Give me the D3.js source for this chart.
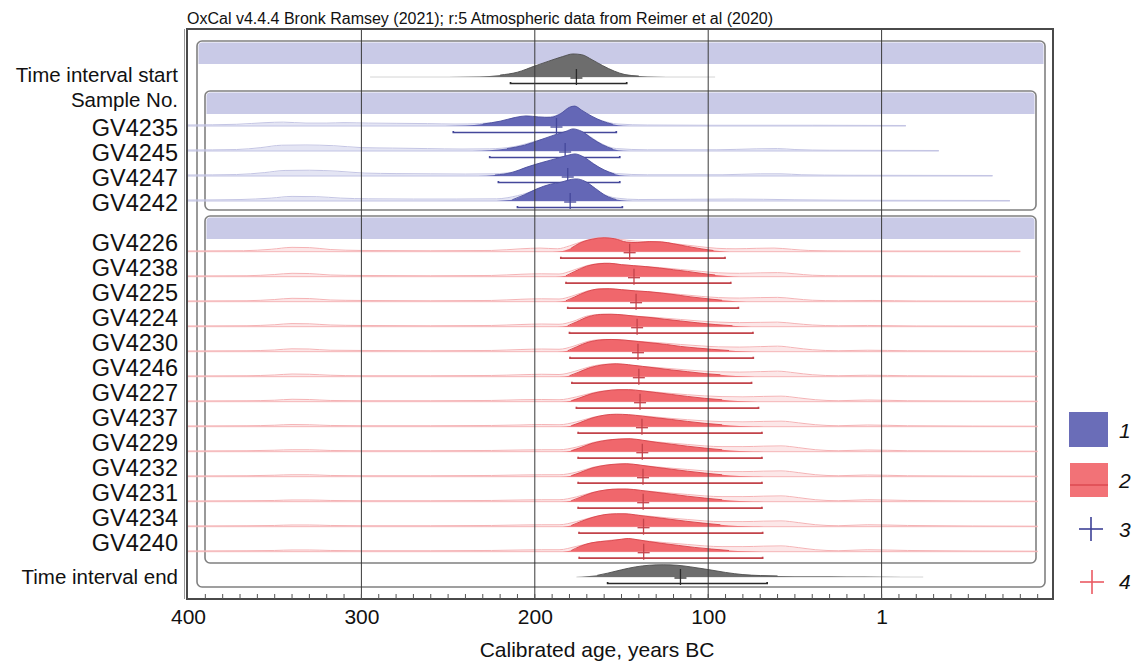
<!DOCTYPE html>
<html>
<head>
<meta charset="utf-8">
<script src="https://cdn.jsdelivr.net/npm/d3@7"></script>
<style>
  body { margin: 0; background: #fff; }
  svg { display: block; font-family: "Liberation Sans", Arial, sans-serif; }
</style>
</head>
<body>
<svg id="chart" width="1134" height="661"></svg>
<script>
// ---- Axis ticks (years BC; "1" marks the BC/AD boundary) ----
const tickYears = [400, 300, 200, 100, 0];
const tickLabels = ["400", "300", "200", "100", "1"];

// ---- Boundaries ----
const startName = "Time interval start";
const startRange = [214, 147];
const startMean = 176;
const startLine = [295, 96];
const startPost = [[250,0],[232,0.02],[220,0.08],[210,0.2],[200,0.46],[192,0.66],[184,0.85],[178,0.96],[173,0.93],[167,0.72],[161,0.48],[154,0.24],[148,0.1],[140,0.04],[130,0.015],[118,0]];

const endName = "Time interval end";
const endRange = [158, 66];
const endMean = 116;
const endLine = [176, -24];
const endPost = [[176,0],[170,0.03],[164,0.07],[158,0.16],[150,0.3],[142,0.42],[134,0.49],[126,0.51],[118,0.49],[110,0.42],[100,0.31],[90,0.19],[80,0.1],[70,0.06],[60,0.045],[40,0.035],[20,0.025],[0,0.015],[-24,0]];

// ---- Group 1 (blue) ----
const blueNames = ["GV4235", "GV4245", "GV4247", "GV4242"];
const blueFrom = [247, 226, 221, 210];
const blueTo = [153, 151, 151, 149.5];
const blueMean = [187.5, 182.5, 181, 179.6];
const blueLineEnd = [-14, -33, -64, -74];
const bluePost = [
  [[252,0],[240,0.02],[230,0.08],[220,0.2],[211,0.36],[205,0.42],[198,0.38],[191,0.36],[185,0.52],[180,0.78],[177,0.83],[173,0.66],[167,0.4],[161,0.2],[155,0.07],[149,0.01],[142,0]],
  [[236,0],[226,0.03],[216,0.1],[206,0.24],[197,0.46],[189,0.66],[182,0.82],[178,0.92],[173,0.82],[167,0.52],[161,0.26],[155,0.08],[149,0.01],[142,0]],
  [[233,0],[223,0.04],[213,0.15],[205,0.36],[196,0.56],[188,0.72],[181,0.86],[177,0.92],[172,0.8],[166,0.5],[160,0.25],[154,0.08],[148,0.01],[141,0]],
  [[222,0],[213,0.05],[206,0.26],[199,0.5],[191,0.7],[185,0.78],[179,0.9],[176,0.92],[171,0.82],[165,0.52],[159,0.22],[153,0.06],[147,0.01],[140,0]]
];
const bluePrior = [
  [[400,0.02],[372,0.05],[355,0.12],[345,0.14],[332,0.1],[320,0.1],[310,0.12],[296,0.1],[280,0.09],[262,0.08],[246,0.06],[232,0.08],[218,0.18],[206,0.34],[196,0.32],[186,0.46],[179,0.68],[171,0.5],[162,0.22],[152,0.06],[135,0.02],[100,0.01],[40,0.01],[-14,0]],
  [[400,0.02],[372,0.04],[358,0.12],[346,0.22],[332,0.23],[316,0.2],[300,0.12],[282,0.1],[262,0.08],[242,0.06],[226,0.07],[212,0.16],[198,0.42],[185,0.66],[178,0.86],[170,0.66],[162,0.3],[153,0.08],[135,0.03],[95,0.03],[72,0.07],[60,0.08],[50,0.04],[30,0.01],[-33,0]],
  [[400,0.02],[372,0.04],[356,0.12],[344,0.21],[330,0.22],[314,0.18],[298,0.1],[280,0.08],[260,0.07],[240,0.06],[224,0.07],[210,0.18],[198,0.44],[186,0.68],[178,0.86],[170,0.68],[162,0.3],[153,0.08],[135,0.03],[92,0.03],[70,0.07],[58,0.07],[46,0.03],[20,0.01],[-64,0]],
  [[400,0.02],[370,0.04],[352,0.1],[340,0.17],[326,0.16],[312,0.1],[296,0.07],[270,0.06],[245,0.06],[222,0.07],[210,0.2],[198,0.46],[186,0.7],[178,0.86],[170,0.7],[162,0.32],[153,0.1],[140,0.04],[110,0.05],[85,0.06],[68,0.05],[50,0.03],[20,0.01],[-74,0]]
];

// ---- Group 2 (red) ----
const redNames = ["GV4226","GV4238","GV4225","GV4224","GV4230","GV4246","GV4227","GV4237","GV4229","GV4232","GV4231","GV4234","GV4240"];
const redFrom = [185, 182, 181, 180, 179.7, 178.6, 176, 175, 175, 175, 175, 174.5, 174.4];
const redTo = [90.3, 87, 82.6, 74.2, 74, 75, 71, 69, 69, 69, 69, 68.6, 68.6];
const redMean = [145.3, 142.8, 141.6, 141, 140.5, 140, 139.3, 138.2, 138, 137.6, 137.5, 137.3, 137.2];
const redLineEnd = [-80, -90, -90, -90, -90, -90, -90, -90, -90, -90, -90, -90, -90];
const redPost = [
  [[190,0],[184,0.03],[179,0.15],[174,0.36],[167,0.52],[160,0.58],[154,0.54],[147,0.4],[141,0.38],[134,0.42],[127,0.41],[120,0.33],[112,0.22],[104,0.12],[97,0.05],[90,0.01],[85,0]],
  [[188,0],[182,0.04],[177,0.22],[170,0.44],[163,0.54],[157,0.56],[150,0.5],[143,0.46],[136,0.42],[128,0.36],[120,0.29],[112,0.22],[104,0.14],[96,0.07],[89,0.03],[82,0]],
  [[188,0],[182,0.04],[177,0.2],[170,0.42],[163,0.53],[157,0.54],[150,0.5],[142,0.45],[135,0.42],[127,0.36],[118,0.28],[110,0.2],[100,0.12],[92,0.06],[84,0.02],[78,0]],
  [[187,0],[181,0.04],[176,0.2],[169,0.42],[162,0.51],[156,0.52],[149,0.49],[141,0.43],[133,0.38],[125,0.31],[116,0.24],[106,0.16],[96,0.09],[86,0.04],[78,0.01],[72,0]],
  [[187,0],[181,0.04],[176,0.2],[169,0.4],[162,0.49],[156,0.51],[148,0.48],[140,0.42],[133,0.37],[124,0.3],[116,0.22],[106,0.15],[98,0.1],[88,0.05],[80,0.02],[72,0]],
  [[186,0],[180,0.04],[175,0.18],[168,0.38],[160,0.5],[153,0.54],[146,0.5],[138,0.43],[130,0.36],[121,0.28],[112,0.21],[102,0.13],[93,0.08],[84,0.03],[76,0.01],[70,0]],
  [[185,0],[179,0.04],[174,0.16],[167,0.34],[159,0.45],[152,0.5],[146,0.5],[138,0.45],[130,0.38],[121,0.3],[112,0.22],[102,0.14],[92,0.08],[83,0.03],[75,0.01],[68,0]],
  [[185,0],[179,0.04],[174,0.17],[167,0.36],[160,0.48],[153,0.52],[146,0.5],[138,0.44],[130,0.37],[121,0.3],[112,0.22],[102,0.14],[92,0.08],[82,0.03],[74,0.01],[67,0]],
  [[185,0],[179,0.04],[174,0.16],[167,0.35],[159,0.47],[151,0.53],[145,0.54],[138,0.48],[130,0.39],[121,0.31],[112,0.23],[102,0.15],[92,0.08],[82,0.03],[74,0.01],[67,0]],
  [[185,0],[179,0.04],[174,0.17],[167,0.36],[159,0.48],[152,0.53],[147,0.54],[139,0.48],[130,0.39],[121,0.31],[112,0.23],[102,0.15],[92,0.08],[82,0.03],[74,0.01],[67,0]],
  [[185,0],[179,0.04],[174,0.18],[167,0.37],[159,0.49],[152,0.53],[147,0.53],[139,0.47],[130,0.39],[121,0.31],[112,0.23],[102,0.15],[92,0.08],[82,0.03],[74,0.01],[67,0]],
  [[184,0],[179,0.05],[174,0.2],[167,0.38],[160,0.5],[153,0.54],[148,0.54],[140,0.47],[131,0.39],[122,0.31],[113,0.23],[103,0.15],[93,0.08],[83,0.03],[74,0.01],[67,0]],
  [[184,0],[179,0.05],[174,0.22],[168,0.36],[162,0.42],[156,0.46],[150,0.52],[146,0.55],[141,0.5],[134,0.42],[126,0.34],[117,0.26],[108,0.18],[98,0.11],[88,0.05],[78,0.02],[68,0]]
];
const redPrior = [
  [[400,0.01],[368,0.02],[352,0.08],[340,0.16],[330,0.15],[318,0.07],[300,0.03],[260,0.02],[225,0.03],[208,0.1],[197,0.13],[187,0.1],[180,0.22],[172,0.42],[162,0.56],[152,0.5],[142,0.42],[130,0.38],[118,0.3],[106,0.2],[95,0.12],[84,0.1],[72,0.12],[62,0.13],[52,0.08],[42,0.03],[20,0.01],[-80,0]],
  [[400,0.01],[366,0.02],[350,0.07],[340,0.12],[330,0.11],[318,0.05],[300,0.03],[260,0.02],[225,0.03],[208,0.08],[196,0.1],[186,0.09],[179,0.22],[170,0.44],[160,0.54],[150,0.48],[140,0.42],[128,0.36],[116,0.28],[104,0.2],[94,0.14],[82,0.12],[70,0.14],[60,0.15],[50,0.1],[40,0.04],[25,0.02],[5,0.02],[-30,0.01],[-90,0]],
  [[400,0.01],[366,0.02],[350,0.07],[340,0.12],[330,0.11],[318,0.05],[300,0.03],[260,0.02],[225,0.03],[208,0.08],[196,0.1],[186,0.09],[179,0.2],[170,0.42],[160,0.52],[150,0.48],[140,0.42],[128,0.36],[116,0.28],[104,0.2],[94,0.15],[82,0.13],[70,0.15],[60,0.16],[50,0.1],[40,0.04],[25,0.02],[5,0.03],[-20,0.01],[-90,0]],
  [[400,0.01],[366,0.02],[350,0.06],[340,0.11],[330,0.1],[318,0.05],[300,0.03],[260,0.02],[225,0.03],[208,0.07],[196,0.09],[186,0.08],[178,0.2],[170,0.42],[160,0.5],[150,0.47],[140,0.41],[128,0.35],[116,0.28],[104,0.21],[94,0.17],[82,0.15],[70,0.16],[60,0.17],[50,0.11],[40,0.05],[25,0.02],[8,0.03],[-20,0.01],[-90,0]],
  [[400,0.01],[366,0.02],[350,0.05],[340,0.1],[330,0.09],[318,0.04],[300,0.03],[260,0.02],[225,0.03],[208,0.07],[196,0.09],[186,0.08],[178,0.2],[170,0.4],[160,0.49],[150,0.47],[140,0.41],[128,0.35],[116,0.28],[104,0.22],[94,0.18],[82,0.17],[70,0.19],[60,0.21],[50,0.14],[40,0.06],[25,0.02],[8,0.04],[-15,0.02],[-90,0]],
  [[400,0.01],[366,0.02],[350,0.05],[340,0.09],[330,0.08],[318,0.04],[300,0.02],[260,0.02],[225,0.03],[208,0.06],[196,0.08],[186,0.07],[177,0.2],[168,0.4],[158,0.5],[148,0.47],[138,0.41],[126,0.34],[114,0.27],[103,0.21],[93,0.18],[82,0.17],[70,0.19],[60,0.21],[50,0.14],[40,0.06],[25,0.02],[8,0.04],[-15,0.02],[-90,0]],
  [[400,0.01],[366,0.02],[350,0.04],[340,0.08],[330,0.07],[318,0.03],[300,0.02],[260,0.02],[225,0.03],[208,0.06],[196,0.07],[186,0.06],[176,0.18],[166,0.36],[156,0.46],[146,0.47],[136,0.42],[124,0.34],[112,0.27],[102,0.22],[92,0.19],[80,0.18],[68,0.2],[58,0.21],[48,0.14],[38,0.06],[25,0.02],[8,0.05],[-15,0.02],[-90,0]],
  [[400,0.01],[366,0.02],[350,0.04],[340,0.07],[330,0.06],[318,0.03],[300,0.02],[260,0.02],[225,0.03],[208,0.05],[196,0.07],[186,0.06],[176,0.18],[166,0.38],[156,0.47],[146,0.47],[136,0.42],[124,0.34],[112,0.27],[102,0.22],[92,0.19],[80,0.18],[68,0.2],[58,0.21],[48,0.14],[38,0.06],[25,0.02],[8,0.05],[-15,0.02],[-90,0]],
  [[400,0.01],[366,0.02],[350,0.04],[340,0.06],[330,0.06],[318,0.03],[300,0.02],[260,0.02],[225,0.03],[208,0.05],[196,0.06],[186,0.06],[176,0.17],[166,0.37],[156,0.48],[146,0.5],[136,0.43],[124,0.35],[112,0.28],[102,0.22],[92,0.19],[80,0.19],[68,0.21],[58,0.22],[48,0.15],[38,0.06],[25,0.02],[8,0.05],[-15,0.02],[-90,0]],
  [[400,0.01],[366,0.02],[350,0.04],[340,0.06],[330,0.06],[318,0.03],[300,0.02],[260,0.02],[225,0.03],[208,0.05],[196,0.06],[186,0.06],[176,0.17],[166,0.38],[156,0.48],[146,0.5],[136,0.43],[124,0.35],[112,0.28],[102,0.22],[92,0.19],[80,0.19],[68,0.21],[58,0.22],[48,0.15],[38,0.06],[25,0.02],[8,0.05],[-15,0.02],[-90,0]],
  [[400,0.01],[366,0.02],[350,0.03],[340,0.05],[330,0.05],[318,0.03],[300,0.02],[260,0.02],[225,0.03],[208,0.05],[196,0.06],[186,0.06],[176,0.18],[166,0.38],[156,0.48],[146,0.49],[136,0.43],[124,0.35],[112,0.28],[102,0.22],[92,0.19],[80,0.19],[68,0.21],[58,0.22],[48,0.15],[38,0.06],[25,0.02],[8,0.06],[-15,0.03],[-90,0]],
  [[400,0.01],[366,0.02],[350,0.03],[340,0.05],[330,0.05],[318,0.03],[300,0.02],[260,0.02],[225,0.03],[208,0.05],[196,0.06],[186,0.06],[176,0.19],[166,0.39],[156,0.49],[146,0.49],[136,0.43],[124,0.35],[112,0.28],[102,0.22],[92,0.19],[80,0.19],[68,0.21],[58,0.22],[48,0.15],[38,0.06],[25,0.02],[8,0.06],[-15,0.03],[-90,0]],
  [[400,0.01],[366,0.02],[350,0.03],[340,0.05],[330,0.05],[318,0.03],[300,0.02],[260,0.02],[225,0.03],[208,0.05],[196,0.06],[186,0.06],[176,0.2],[166,0.36],[156,0.46],[146,0.5],[136,0.43],[124,0.35],[112,0.28],[102,0.22],[92,0.19],[80,0.19],[68,0.21],[58,0.22],[48,0.15],[38,0.06],[25,0.02],[8,0.06],[-15,0.03],[-90,0]]
];

// ---- Legend ----
const legendLabels = ["1", "2", "3", "4"];

// ---- Colours ----
const C = {
  band: "#c9cae7",
  box: "#808080",
  grid: "#3a3a3a",
  bluePost: "#6467b6", blueEdge: "#4a4d9d", bluePrior: "rgba(196,197,230,0.45)", bluePriorEdge: "#c4c5e4", blueLine: "#c3c4e4", blueMark: "#44479a",
  redPost: "#f0676c", redEdge: "#d8434a", redPrior: "rgba(246,176,178,0.3)", redPriorEdge: "#f5b3b5", redLine: "#f6b8ba", redMark: "#c2434a",
  grayPost: "#6d6d6d", grayEdge: "#4d4d4d", grayLine: "#d4d4d4", grayMark: "#2a2a2a"
};

const svg = d3.select("#chart");

// scales
const x = d3.scaleLinear().domain([400, -100]).range([188, 1055]);
const h = d3.scaleLinear().domain([0, 1]).range([0, 24]);
const yBlue = d3.scalePoint().domain(blueNames).range([126, 201]);
const yRed = d3.scalePoint().domain(redNames).range([251.7, 551.7]);
const yStart = 77, yEnd = 577;

// title
svg.append("text").attr("x", 187).attr("y", 24).attr("font-size", 16).attr("fill", "#111")
  .text("OxCal v4.4.4 Bronk Ramsey (2021); r:5 Atmospheric data from Reimer et al (2020)");

// panels
const panels = svg.append("g");
function panel(x0, y0, x1, y1, bandH) {
  panels.append("rect").attr("x", x0).attr("y", y0).attr("width", x1 - x0).attr("height", y1 - y0)
    .attr("rx", 5).attr("fill", "#fff").attr("stroke", C.box).attr("stroke-width", 1.6);
  panels.append("path")
    .attr("d", `M${x0+1.5},${y0+bandH} V${y0+5} Q${x0+1.5},${y0+1.5} ${x0+5},${y0+1.5} H${x1-5} Q${x1-1.5},${y0+1.5} ${x1-1.5},${y0+5} V${y0+bandH} Z`)
    .attr("fill", C.band);
}
panel(197, 41, 1045, 587, 23);
panel(205, 91, 1036, 210, 23);
panel(205, 216, 1036, 563, 23);

const area = base => d3.area().curve(d3.curveMonotoneX)
  .x(d => x(d[0])).y0(base).y1(d => base - h(d[1]));
const edge = base => d3.line().curve(d3.curveMonotoneX)
  .x(d => x(d[0])).y(d => base - h(d[1]));

const marks = svg.append("g");

function row(base, lineSpan, prior, post, from, to, mean, col) {
  marks.append("line").attr("x1", x(lineSpan[0])).attr("x2", x(lineSpan[1]))
    .attr("y1", base).attr("y2", base).attr("stroke", col.line).attr("stroke-width", 1);
  if (prior) {
    marks.append("path").datum(prior).attr("d", area(base)).attr("fill", col.prior);
    marks.append("path").datum(prior).attr("d", edge(base - 0.5))
      .attr("fill", "none").attr("stroke", col.priorEdge).attr("stroke-width", 1);
  }
  marks.append("path").datum(post).attr("d", area(base)).attr("fill", col.post);
  // outline only where the curve lifts off the baseline
  const lifted = post.filter(d => d[1] >= 0.04);
  marks.append("path").datum(lifted).attr("d", edge(base))
    .attr("fill", "none").attr("stroke", col.edge).attr("stroke-width", 0.9);
  const by = base + 6.5;
  marks.append("path")
    .attr("d", `M${x(from)},${by-1.5} V${by} H${x(to)} V${by-1.5}`)
    .attr("fill", "none").attr("stroke", col.mark).attr("stroke-width", 1.7);
  const mx = x(mean);
  marks.append("line").attr("x1", mx).attr("x2", mx).attr("y1", base - 8).attr("y2", base + 8)
    .attr("stroke", col.mark).attr("stroke-width", 1.3);
  marks.append("line").attr("x1", mx - 6).attr("x2", mx + 6).attr("y1", base + 1).attr("y2", base + 1)
    .attr("stroke", col.mark).attr("stroke-width", 1.3);
}

const grayCol = { line: C.grayLine, post: C.grayPost, edge: C.grayEdge, mark: C.grayMark };
const blueCol = { line: C.blueLine, prior: C.bluePrior, priorEdge: C.bluePriorEdge, post: C.bluePost, edge: C.blueEdge, mark: C.blueMark };
const redCol = { line: C.redLine, prior: C.redPrior, priorEdge: C.redPriorEdge, post: C.redPost, edge: C.redEdge, mark: C.redMark };

row(yStart, startLine, null, startPost, startRange[0], startRange[1], startMean, grayCol);
blueNames.forEach((n, i) => row(yBlue(n), [400, blueLineEnd[i]], bluePrior[i], bluePost[i], blueFrom[i], blueTo[i], blueMean[i], blueCol));
redNames.forEach((n, i) => row(yRed(n), [400, redLineEnd[i]], redPrior[i], redPost[i], redFrom[i], redTo[i], redMean[i], redCol));
row(yEnd, endLine, null, endPost, endRange[0], endRange[1], endMean, grayCol);

// vertical grid at the labelled years
svg.append("g").selectAll("line").data(tickYears.slice(1)).join("line")
  .attr("x1", d => x(d)).attr("x2", d => x(d)).attr("y1", 29).attr("y2", 599)
  .attr("stroke", C.grid).attr("stroke-width", 1);

// outer frame
svg.append("rect").attr("x", 187).attr("y", 29).attr("width", 866).attr("height", 570)
  .attr("fill", "none").attr("stroke", "#4a4a4a").attr("stroke-width", 2);
svg.append("line").attr("x1", 184.5).attr("x2", 184.5).attr("y1", 29).attr("y2", 599)
  .attr("stroke", "#9a9a9a").attr("stroke-width", 1);

// bottom axis: minor ticks every 10 years, labels at the centuries
const axis = d3.axisBottom(x).tickValues(tickYears).tickFormat((d, i) => tickLabels[i]).tickSize(0).tickPadding(10);
const gAxis = svg.append("g").attr("transform", "translate(0,599)").call(axis);
gAxis.select(".domain").remove();
gAxis.selectAll("text").attr("font-size", 21).attr("fill", "#111").attr("font-family", "Liberation Sans, Arial, sans-serif");
const minor = d3.range(390, -100, -10);
svg.append("g").selectAll("line").data(minor).join("line")
  .attr("x1", d => x(d)).attr("x2", d => x(d)).attr("y1", 599).attr("y2", 594)
  .attr("stroke", "#555").attr("stroke-width", 1);

svg.append("text").attr("x", 597).attr("y", 657).attr("text-anchor", "middle")
  .attr("font-size", 21).attr("fill", "#111").text("Calibrated age, years BC");

// row labels
const lab = svg.append("g").attr("text-anchor", "end").attr("fill", "#111");
lab.append("text").attr("x", 178).attr("y", 75).attr("dy", "0.36em").attr("font-size", 20.5).text(startName);
lab.append("text").attr("x", 178).attr("y", 100).attr("dy", "0.36em").attr("font-size", 20.5).text("Sample No.");
blueNames.forEach(n => lab.append("text").attr("x", 178).attr("y", yBlue(n) + 2).attr("dy", "0.36em").attr("font-size", 23.5).text(n));
redNames.forEach(n => lab.append("text").attr("x", 178).attr("y", yRed(n) - 9.5).attr("dy", "0.36em").attr("font-size", 23.5).text(n));
lab.append("text").attr("x", 178).attr("y", 577).attr("dy", "0.36em").attr("font-size", 20.5).text(endName);

// legend
const lg = svg.append("g");
lg.append("rect").attr("x", 1069).attr("y", 412).attr("width", 39).attr("height", 35).attr("fill", "#6a6db8");
lg.append("rect").attr("x", 1070).attr("y", 463).attr("width", 38).attr("height", 34).attr("fill", "#f27277");
lg.append("line").attr("x1", 1070).attr("x2", 1108).attr("y1", 485).attr("y2", 485).attr("stroke", "#dd4a50").attr("stroke-width", 1.5);
[[1091, 529, "#3d4096"], [1092, 582, "#ea5a62"]].forEach(([cx, cy, c]) => {
  lg.append("line").attr("x1", cx - 12).attr("x2", cx + 12).attr("y1", cy).attr("y2", cy).attr("stroke", c).attr("stroke-width", 1.6);
  lg.append("line").attr("x1", cx).attr("x2", cx).attr("y1", cy - 12).attr("y2", cy + 12).attr("stroke", c).attr("stroke-width", 1.6);
});
const legendY = [430, 480, 529, 581];
legendLabels.forEach((t, i) => lg.append("text").attr("x", 1119).attr("y", legendY[i]).attr("dy", "0.36em")
  .attr("font-size", 21).attr("font-style", "italic").attr("fill", "#111").text(t));
</script>
</body>
</html>
